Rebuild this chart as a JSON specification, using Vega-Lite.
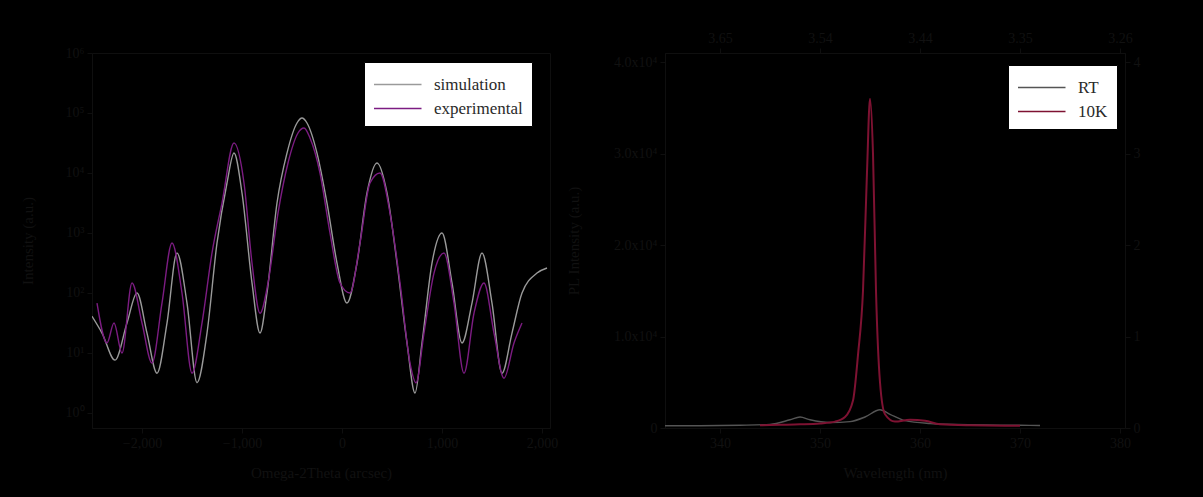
{
  "$schema": "https://vega.github.io/schema/vega-lite/v6.json",
  "background": "#000000",
  "padding": {"left": 19, "top": 30, "right": 51, "bottom": 17},
  "spacing": 6,
  "resolve": {"scale": {"color": "independent"}, "legend": {"color": "independent"}},
  "config": {
    "font": "Liberation Serif",
    "view": {"stroke": "#0f0f0f", "strokeWidth": 1},
    "axis": {
      "labelColor": "#111111", "titleColor": "#111111", "domainColor": "#0f0f0f", "tickColor": "#0f0f0f",
      "grid": false, "labelFont": "Liberation Serif", "titleFont": "Liberation Serif",
      "labelFontSize": 14, "titleFontSize": 15, "titleFontWeight": "normal", "tickSize": 5, "labelPadding": 3
    },
    "legend": {
      "fillColor": "#ffffff", "strokeColor": "#000000", "padding": 9,
      "labelFont": "Liberation Serif", "labelFontSize": 17, "labelColor": "#2a2a2a",
      "symbolType": "M-1,0H2.8", "symbolSize": 625, "symbolStrokeWidth": 1.3, "rowPadding": 2, "labelOffset": 34
    }
  },
  "datasets": {
    "xrd": [
      {"x": -2500, "intensity": 41, "series": "simulation"},
      {"x": -2400, "intensity": 21.5, "series": "simulation"},
      {"x": -2270, "intensity": 7.6, "series": "simulation"},
      {"x": -2150, "intensity": 31.6, "series": "simulation"},
      {"x": -2050, "intensity": 100, "series": "simulation"},
      {"x": -1950, "intensity": 21.5, "series": "simulation"},
      {"x": -1850, "intensity": 4.6, "series": "simulation"},
      {"x": -1750, "intensity": 31.6, "series": "simulation"},
      {"x": -1650, "intensity": 464, "series": "simulation"},
      {"x": -1550, "intensity": 68, "series": "simulation"},
      {"x": -1450, "intensity": 3.2, "series": "simulation"},
      {"x": -1350, "intensity": 21.5, "series": "simulation"},
      {"x": -1250, "intensity": 681, "series": "simulation"},
      {"x": -1150, "intensity": 6810, "series": "simulation"},
      {"x": -1080, "intensity": 21500, "series": "simulation"},
      {"x": -1000, "intensity": 4640, "series": "simulation"},
      {"x": -900, "intensity": 147, "series": "simulation"},
      {"x": -820, "intensity": 21.5, "series": "simulation"},
      {"x": -750, "intensity": 100, "series": "simulation"},
      {"x": -650, "intensity": 3160, "series": "simulation"},
      {"x": -550, "intensity": 21500, "series": "simulation"},
      {"x": -450, "intensity": 68100, "series": "simulation"},
      {"x": -400, "intensity": 82500, "series": "simulation"},
      {"x": -350, "intensity": 68100, "series": "simulation"},
      {"x": -250, "intensity": 21500, "series": "simulation"},
      {"x": -150, "intensity": 3160, "series": "simulation"},
      {"x": -50, "intensity": 316, "series": "simulation"},
      {"x": 50, "intensity": 68, "series": "simulation"},
      {"x": 150, "intensity": 316, "series": "simulation"},
      {"x": 250, "intensity": 4640, "series": "simulation"},
      {"x": 350, "intensity": 14700, "series": "simulation"},
      {"x": 450, "intensity": 4640, "series": "simulation"},
      {"x": 550, "intensity": 316, "series": "simulation"},
      {"x": 650, "intensity": 14.7, "series": "simulation"},
      {"x": 730, "intensity": 2.15, "series": "simulation"},
      {"x": 800, "intensity": 14.7, "series": "simulation"},
      {"x": 900, "intensity": 316, "series": "simulation"},
      {"x": 1000, "intensity": 1000, "series": "simulation"},
      {"x": 1100, "intensity": 147, "series": "simulation"},
      {"x": 1200, "intensity": 14.7, "series": "simulation"},
      {"x": 1300, "intensity": 68, "series": "simulation"},
      {"x": 1400, "intensity": 464, "series": "simulation"},
      {"x": 1500, "intensity": 68, "series": "simulation"},
      {"x": 1600, "intensity": 4.6, "series": "simulation"},
      {"x": 1700, "intensity": 21.5, "series": "simulation"},
      {"x": 1800, "intensity": 100, "series": "simulation"},
      {"x": 1950, "intensity": 215, "series": "simulation"},
      {"x": 2050, "intensity": 261, "series": "simulation"},
      {"x": -2450, "intensity": 68, "series": "experimental"},
      {"x": -2350, "intensity": 14.7, "series": "experimental"},
      {"x": -2280, "intensity": 31.6, "series": "experimental"},
      {"x": -2200, "intensity": 10, "series": "experimental"},
      {"x": -2100, "intensity": 147, "series": "experimental"},
      {"x": -2000, "intensity": 31.6, "series": "experimental"},
      {"x": -1900, "intensity": 6.8, "series": "experimental"},
      {"x": -1800, "intensity": 68, "series": "experimental"},
      {"x": -1700, "intensity": 681, "series": "experimental"},
      {"x": -1600, "intensity": 100, "series": "experimental"},
      {"x": -1500, "intensity": 4.6, "series": "experimental"},
      {"x": -1400, "intensity": 31.6, "series": "experimental"},
      {"x": -1300, "intensity": 464, "series": "experimental"},
      {"x": -1200, "intensity": 3160, "series": "experimental"},
      {"x": -1080, "intensity": 31600, "series": "experimental"},
      {"x": -980, "intensity": 6810, "series": "experimental"},
      {"x": -900, "intensity": 316, "series": "experimental"},
      {"x": -820, "intensity": 46, "series": "experimental"},
      {"x": -740, "intensity": 147, "series": "experimental"},
      {"x": -640, "intensity": 2150, "series": "experimental"},
      {"x": -540, "intensity": 14700, "series": "experimental"},
      {"x": -440, "intensity": 46400, "series": "experimental"},
      {"x": -380, "intensity": 56200, "series": "experimental"},
      {"x": -320, "intensity": 38300, "series": "experimental"},
      {"x": -220, "intensity": 10000, "series": "experimental"},
      {"x": -120, "intensity": 1000, "series": "experimental"},
      {"x": -20, "intensity": 147, "series": "experimental"},
      {"x": 80, "intensity": 100, "series": "experimental"},
      {"x": 180, "intensity": 681, "series": "experimental"},
      {"x": 280, "intensity": 6810, "series": "experimental"},
      {"x": 380, "intensity": 10000, "series": "experimental"},
      {"x": 480, "intensity": 2150, "series": "experimental"},
      {"x": 580, "intensity": 147, "series": "experimental"},
      {"x": 680, "intensity": 6.8, "series": "experimental"},
      {"x": 740, "intensity": 3.2, "series": "experimental"},
      {"x": 820, "intensity": 21.5, "series": "experimental"},
      {"x": 920, "intensity": 215, "series": "experimental"},
      {"x": 1020, "intensity": 464, "series": "experimental"},
      {"x": 1120, "intensity": 68, "series": "experimental"},
      {"x": 1220, "intensity": 4.6, "series": "experimental"},
      {"x": 1320, "intensity": 46, "series": "experimental"},
      {"x": 1420, "intensity": 147, "series": "experimental"},
      {"x": 1520, "intensity": 21.5, "series": "experimental"},
      {"x": 1620, "intensity": 3.8, "series": "experimental"},
      {"x": 1720, "intensity": 14.7, "series": "experimental"},
      {"x": 1800, "intensity": 31.6, "series": "experimental"}
    ],
    "pl": [
      {"wavelength": 334.5, "intensity": 250, "series": "RT"},
      {"wavelength": 338, "intensity": 250, "series": "RT"},
      {"wavelength": 342, "intensity": 300, "series": "RT"},
      {"wavelength": 345, "intensity": 400, "series": "RT"},
      {"wavelength": 347, "intensity": 900, "series": "RT"},
      {"wavelength": 348, "intensity": 1200, "series": "RT"},
      {"wavelength": 349, "intensity": 900, "series": "RT"},
      {"wavelength": 351, "intensity": 600, "series": "RT"},
      {"wavelength": 353, "intensity": 700, "series": "RT"},
      {"wavelength": 354.5, "intensity": 1200, "series": "RT"},
      {"wavelength": 356, "intensity": 2000, "series": "RT"},
      {"wavelength": 357, "intensity": 1500, "series": "RT"},
      {"wavelength": 358.5, "intensity": 800, "series": "RT"},
      {"wavelength": 361, "intensity": 500, "series": "RT"},
      {"wavelength": 365, "intensity": 350, "series": "RT"},
      {"wavelength": 370, "intensity": 300, "series": "RT"},
      {"wavelength": 372, "intensity": 280, "series": "RT"},
      {"wavelength": 344, "intensity": 300, "series": "10K"},
      {"wavelength": 346, "intensity": 350, "series": "10K"},
      {"wavelength": 348, "intensity": 400, "series": "10K"},
      {"wavelength": 350, "intensity": 500, "series": "10K"},
      {"wavelength": 351.5, "intensity": 700, "series": "10K"},
      {"wavelength": 352.5, "intensity": 1200, "series": "10K"},
      {"wavelength": 353.3, "intensity": 3000, "series": "10K"},
      {"wavelength": 353.8, "intensity": 8000, "series": "10K"},
      {"wavelength": 354.3, "intensity": 15000, "series": "10K"},
      {"wavelength": 354.7, "intensity": 28000, "series": "10K"},
      {"wavelength": 355.0, "intensity": 36000, "series": "10K"},
      {"wavelength": 355.3, "intensity": 30000, "series": "10K"},
      {"wavelength": 355.6, "intensity": 15000, "series": "10K"},
      {"wavelength": 356.0, "intensity": 5000, "series": "10K"},
      {"wavelength": 356.5, "intensity": 1500, "series": "10K"},
      {"wavelength": 357.5, "intensity": 700, "series": "10K"},
      {"wavelength": 359, "intensity": 900, "series": "10K"},
      {"wavelength": 360.5, "intensity": 800, "series": "10K"},
      {"wavelength": 362, "intensity": 400, "series": "10K"},
      {"wavelength": 365, "intensity": 300, "series": "10K"},
      {"wavelength": 370, "intensity": 250, "series": "10K"}
    ]
  },
  "hconcat": [
    {
      "width": 458,
      "height": 375,
      "data": {"name": "xrd"},
      "mark": {"type": "line", "strokeWidth": 1.4, "clip": true, "interpolate": "monotone"},
      "encoding": {
        "x": {
          "field": "x", "type": "quantitative",
          "scale": {"domain": [-2500, 2080], "nice": false, "zero": false},
          "axis": {"values": [-2000, -1000, 0, 1000, 2000], "title": "Omega-2Theta (arcsec)", "minExtent": 25, "maxExtent": 25, "titlePadding": 12}
        },
        "y": {
          "field": "intensity", "type": "quantitative",
          "scale": {"type": "log", "domain": [0.5623, 1000000], "nice": false},
          "axis": {
            "values": [1, 10, 100, 1000, 10000, 100000, 1000000],
            "labelExpr": "'10' + ['⁰','¹','²','³','⁴','⁵','⁶'][round(log(datum.value)/LN10)]",
            "title": "Intensity (a.u.)", "minExtent": 45, "maxExtent": 45, "titlePadding": 12
          }
        },
        "color": {
          "field": "series", "type": "nominal",
          "scale": {"domain": ["simulation", "experimental"], "range": ["#9a9a9a", "#7c1c82"]},
          "legend": {"title": null, "orient": "none", "legendX": 272, "legendY": 9}
        }
      }
    },
    {
      "width": 460,
      "height": 375,
      "data": {"name": "pl"},
      "layer": [
        {
          "transform": [{"filter": "datum.series === 'RT'"}],
          "mark": {"type": "line", "strokeWidth": 1.4, "clip": true, "interpolate": "monotone"},
          "encoding": {
            "x": {
              "field": "wavelength", "type": "quantitative",
              "scale": {"domain": [334.5, 380.5], "nice": false, "zero": false},
              "axis": {"values": [340, 350, 360, 370, 380], "title": "Wavelength (nm)", "minExtent": 25, "maxExtent": 25, "titlePadding": 12}
            },
            "y": {
              "field": "intensity", "type": "quantitative",
              "scale": {"domain": [0, 41000], "nice": false},
              "axis": {
                "values": [0, 10000, 20000, 30000, 40000],
                "labelExpr": "datum.value == 0 ? '0' : format(datum.value/10000, '.1f') + 'x10⁴'",
                "title": "PL Intensity (a.u.)", "minExtent": 66, "maxExtent": 66, "titlePadding": 18
              }
            },
            "color": {
              "field": "series", "type": "nominal",
              "scale": {"domain": ["RT", "10K"], "range": ["#555555", "#7e1232"]},
              "legend": {"title": null, "orient": "none", "legendX": 343, "legendY": 12}
            }
          }
        },
        {
          "transform": [{"filter": "datum.series === '10K'"}],
          "mark": {"type": "line", "strokeWidth": 2, "clip": true, "interpolate": "monotone"},
          "encoding": {
            "x": {
              "field": "wavelength", "type": "quantitative",
              "axis": {"orient": "top", "values": [340, 350, 360, 370, 380], "labelExpr": "format(1239.84/datum.value, '.2f')", "title": null, "minExtent": 20, "maxExtent": 20}
            },
            "y": {
              "field": "intensity", "type": "quantitative",
              "axis": {"orient": "right", "values": [0, 10000, 20000, 30000, 40000], "labelExpr": "datum.value == 0 ? '0' : format(datum.value/10000, '.0f')", "title": null, "minExtent": 35, "maxExtent": 35}
            },
            "color": {"field": "series", "type": "nominal"}
          }
        }
      ],
      "resolve": {"axis": {"x": "independent", "y": "independent"}}
    }
  ]
}
